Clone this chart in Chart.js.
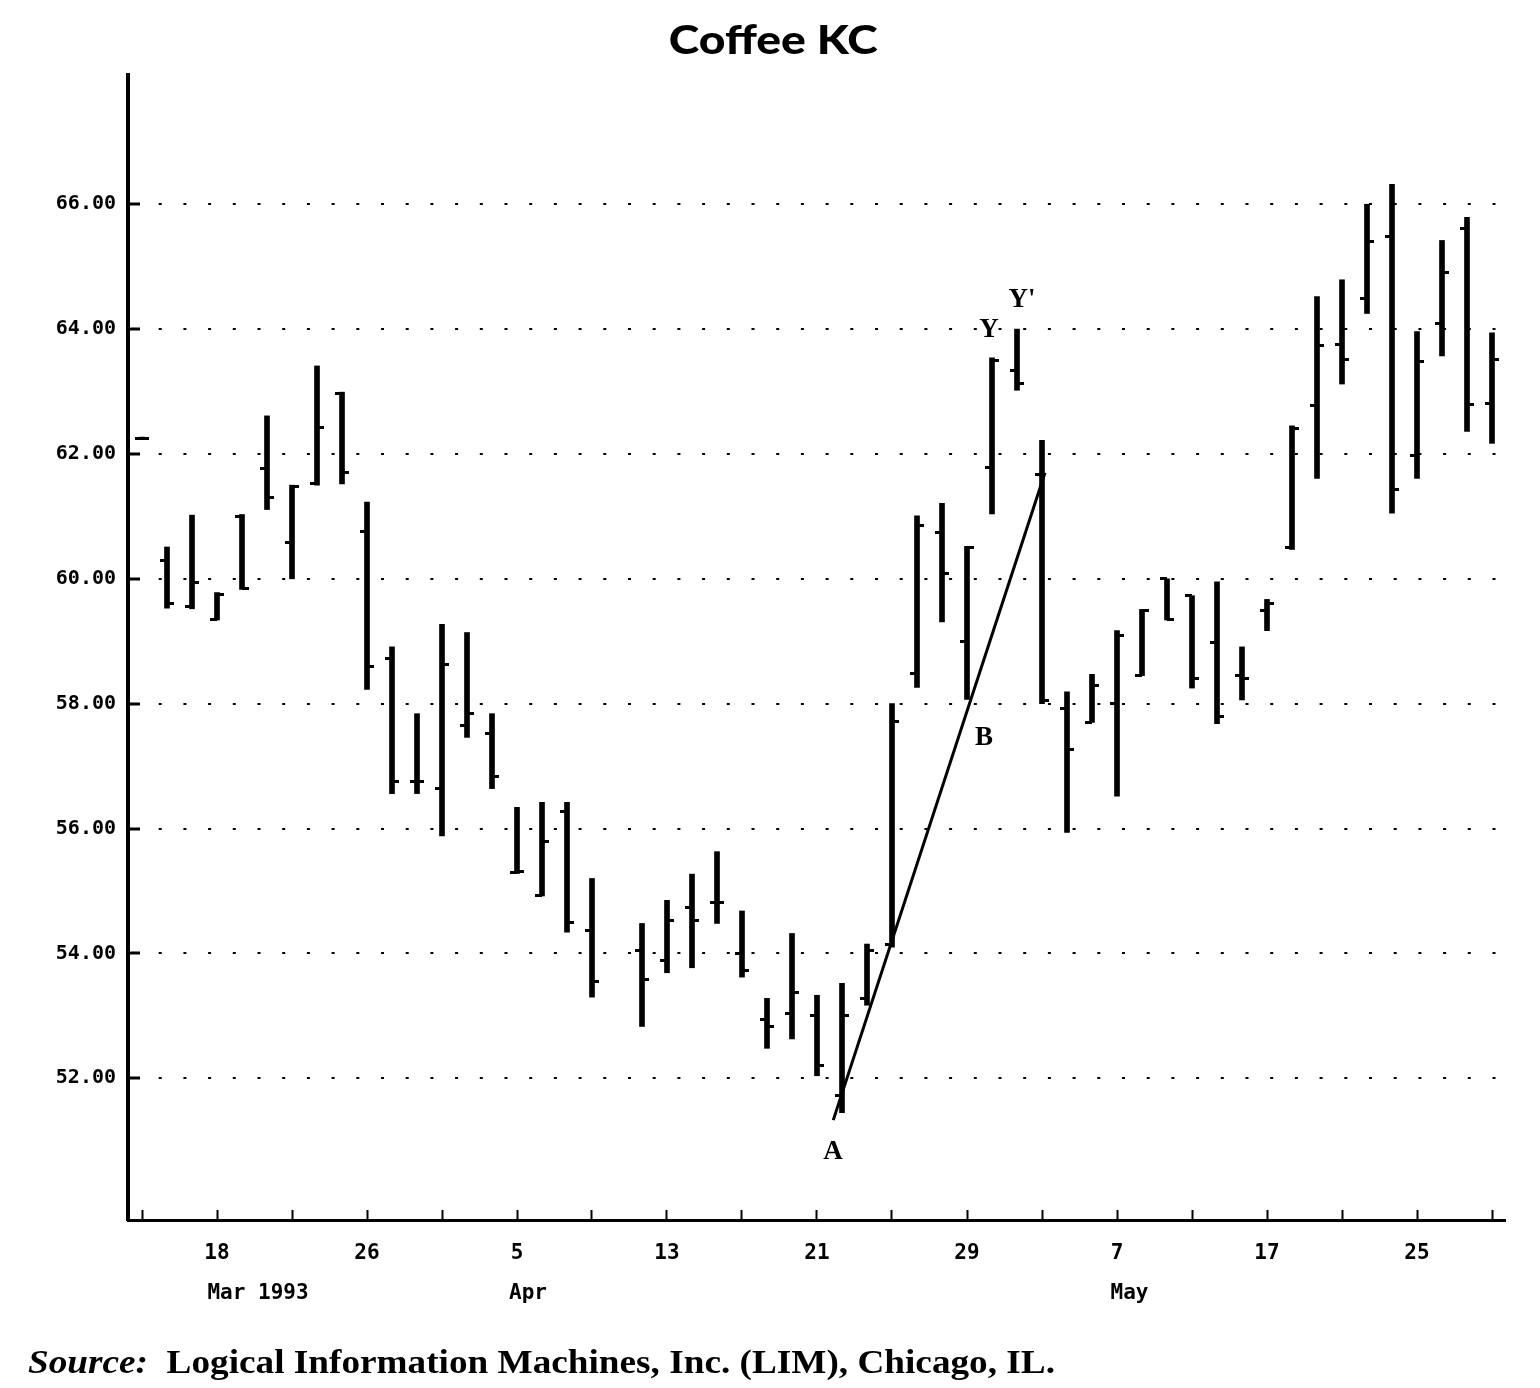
<!DOCTYPE html>
<html><head><meta charset="utf-8">
<script src="https://cdn.jsdelivr.net/npm/chart.js@4.4.1/dist/chart.umd.min.js"></script>
<style>
html,body{margin:0;padding:0;background:#fff;width:1540px;height:1388px;overflow:hidden;position:relative}
#c{position:absolute;left:0;top:0}
#title{position:absolute;left:0;width:1546px;top:14px;text-align:center;font-family:Lato;font-weight:900;font-size:40px;color:#000;line-height:50px}
#title span{display:inline-block;transform-origin:50% 50%}
#src{position:absolute;left:28px;top:1343px;font-family:"Liberation Serif";font-weight:bold;font-size:33px;white-space:nowrap;transform-origin:0 0;color:#000;line-height:38px}
</style></head><body>
<canvas id="c" width="1540" height="1388"></canvas>
<div id="title"><span id="tt">Coffee KC</span></div>
<div id="src"><i>Source:</i>&nbsp; Logical Information Machines, Inc. (LIM), Chicago, IL.</div>
<script>
// ---- data (one entry per trading day) ----
const dates = [
 '1993-03-15','1993-03-16','1993-03-17','1993-03-18','1993-03-19',
 '1993-03-22','1993-03-23','1993-03-24','1993-03-25','1993-03-26',
 '1993-03-29','1993-03-30','1993-03-31','1993-04-01','1993-04-02',
 '1993-04-05','1993-04-06','1993-04-07','1993-04-08','1993-04-09',
 '1993-04-12','1993-04-13','1993-04-14','1993-04-15','1993-04-16',
 '1993-04-19','1993-04-20','1993-04-21','1993-04-22','1993-04-23',
 '1993-04-26','1993-04-27','1993-04-28','1993-04-29','1993-04-30',
 '1993-05-03','1993-05-04','1993-05-05','1993-05-06','1993-05-07',
 '1993-05-10','1993-05-11','1993-05-12','1993-05-13','1993-05-14',
 '1993-05-17','1993-05-18','1993-05-19','1993-05-20','1993-05-21',
 '1993-05-24','1993-05-25','1993-05-26','1993-05-27','1993-05-28'];
const highs = [62.27,60.51,61.02,59.78,61.03, 62.61,61.50,63.41,62.99,61.23,
 58.91,57.84,59.27,59.14,57.84, 56.34,56.42,56.42,55.20,null,
 54.48,54.85,55.27,55.63,54.68, 53.28,54.32,53.33,53.52,54.15,
 58.00,61.01,61.21,60.52,63.54, 64.00,62.22,58.19,58.47,59.17,
 59.51,60.00,59.73,59.95,58.91, 59.67,62.45,64.52,64.79,66.00,
 66.32,63.96,65.42,65.79,63.94];
const lows = [62.23,59.53,59.52,59.34,59.83, 61.11,60.00,61.50,61.52,58.23,
 56.56,56.56,55.88,57.46,56.64, 55.28,54.92,54.34,53.30,null,
 52.83,53.69,53.77,54.48,53.62, 52.48,52.63,52.04,51.45,53.17,
 54.10,58.26,59.31,58.07,61.04, 63.02,58.00,55.94,57.70,56.52,
 58.45,59.34,58.25,57.68,58.06, 59.17,60.47,61.61,63.12,64.25,
 61.05,61.61,63.57,62.36,62.17];
const opens = [62.25,60.30,59.55,59.35,61.00, 61.77,60.58,61.52,62.97,60.76,
 58.73,56.75,56.64,57.65,57.53, 55.30,54.93,56.28,54.37,null,
 54.05,53.89,54.73,54.81,54.00, 52.94,53.03,53.01,51.73,53.28,
 54.15,58.49,60.74,58.99,61.78, 63.34,61.67,57.93,57.70,58.00,
 58.45,60.00,59.73,58.98,58.45, 59.50,60.50,62.78,63.76,64.49,
 65.48,61.98,64.09,65.61,62.81];
const closes = [62.25,59.60,59.94,59.75,59.85, 61.30,61.48,62.42,61.71,58.60,
 56.75,56.75,58.63,57.85,56.83, 55.32,55.80,54.49,53.55,null,
 53.58,54.53,54.52,54.81,53.73, 52.83,53.38,52.20,53.01,54.05,
 57.71,60.86,60.09,60.50,63.50, 63.13,58.05,57.27,58.29,59.10,
 59.50,59.35,58.40,57.79,58.40, 59.60,62.40,63.73,63.52,65.41,
 61.43,63.48,64.91,62.79,63.51];
// tick labels
const yTickValues = [52,54,56,58,60,62,64,66];
const xTickEvery = 3;               // tick mark every 3 trading days
const dayLabelIdx = [3,9,15,21,27,33,39,45,51];
const monthLabels = ['Mar 1993','Apr','May'];
const monthLabelAt = [4.64,15.44,39.5];
// trend line A -> top of rally, and annotations
const trendX = [27.65,36.12];
const trendY = [51.33,61.70];
const noteText = ['A','B','Y',"Y'"];
const noteX = [27.64,33.68,33.88,35.2];
const noteY = [50.82,57.45,63.98,64.46];

// ---- build datasets ----
const barData=[], openPts=[], closePts=[];
for(let i=0;i<dates.length;i++){
  if(highs[i]==null) continue;
  barData.push({x:i,y:[lows[i],highs[i]]});
  openPts.push({x:i,y:opens[i]});
  closePts.push({x:i,y:closes[i]});
}
function tickImg(left){
  const c=document.createElement('canvas'); c.width=14; c.height=3;
  const g=c.getContext('2d'); g.fillStyle='#000'; g.fillRect(left?0:7,0,7,3); return c;
}
const trendData = trendX.map((v,i)=>({x:v,y:trendY[i]}));
const xTicks=[]; for(let i=0;i<dates.length;i+=xTickEvery) xTicks.push(i);

const notes = {
  id:'notes',
  afterDatasetsDraw(chart){
    const {ctx, scales:{x,y}} = chart;
    ctx.save();
    ctx.fillStyle='#000';
    ctx.font='bold 27px "Liberation Serif"';
    ctx.textAlign='center'; ctx.textBaseline='middle';
    noteText.forEach((t,i)=>ctx.fillText(t, x.getPixelForValue(noteX[i]), y.getPixelForValue(noteY[i])));
    ctx.restore();
  }
};

const monoFont = {family:'DejaVu Sans Mono', size:20, weight:'bold'};
const xFont = {family:'DejaVu Sans Mono', size:21, weight:'bold'};
new Chart(document.getElementById('c'), {
  type:'bar',
  data:{datasets:[
    {type:'bar', data:barData, backgroundColor:'#000', borderWidth:0, barThickness:5, xAxisID:'x', yAxisID:'y'},
    {type:'scatter', data:openPts, pointStyle:tickImg(true), pointRadius:7, xAxisID:'x', yAxisID:'y'},
    {type:'scatter', data:closePts, pointStyle:tickImg(false), pointRadius:7, xAxisID:'x', yAxisID:'y'},
    {type:'line', data:trendData, borderColor:'#000', borderWidth:3, pointRadius:0, tension:0, fill:false, xAxisID:'x', yAxisID:'y'}
  ]},
  options:{
    responsive:false, animation:false, devicePixelRatio:1,
    layout:{padding:{left:0, top:75, right:35, bottom:72}},
    plugins:{legend:{display:false}, tooltip:{enabled:false}, title:{display:false}},
    scales:{
      x:{type:'linear', position:'bottom', weight:0, min:-0.56, max:54.52, offset:false,
        afterBuildTicks:s=>{ s.ticks = xTicks.map(v=>({value:v})); },
        afterFit:s=>{ s.height = 56; },
        grid:{display:true, offset:false, drawOnChartArea:false, drawTicks:true, tickLength:-10, tickWidth:2, tickColor:'#000'},
        border:{display:true, color:'#000', width:3},
        ticks:{autoSkip:false, maxRotation:0, minRotation:0, padding:31, color:'#000', font:xFont,
          callback:(v)=> dayLabelIdx.includes(v) ? String(parseInt(dates[v].slice(8),10)) : ''}
      },
      xm:{type:'linear', position:'bottom', weight:1, min:-0.56, max:54.52, offset:false,
        afterBuildTicks:s=>{ s.ticks = monthLabelAt.map(v=>({value:v})); },
        afterFit:s=>{ s.height = 40; },
        grid:{display:false}, border:{display:false},
        ticks:{autoSkip:false, maxRotation:0, minRotation:0, padding:-3, color:'#000', font:xFont,
          callback:(v,i)=> monthLabels[i]}
      },
      y:{type:'linear', position:'left', min:49.73, max:68.07, beginAtZero:false,
        afterBuildTicks:s=>{ s.ticks = yTickValues.map(v=>({value:v})); },
        afterFit:s=>{ s.width = 128; },
        grid:{display:true, drawOnChartArea:true, color:'#000', lineWidth:2, drawTicks:true, tickLength:-12, tickWidth:3, tickColor:'#000'},
        border:{display:true, color:'#000', width:4, dash:[3,21.7], dashOffset:20.7},
        ticks:{padding:24, color:'#000', font:monoFont, callback:v=>v.toFixed(2)}
      }
    }
  },
  plugins:[notes]
});

// fit title / source widths to the reference layout
function fitWidth(el, target){
  const w = el.getBoundingClientRect().width;
  if(w>0) el.style.transform = 'scaleX(' + (target/w) + ')';
}
fitWidth(document.getElementById('tt'), 209);
fitWidth(document.getElementById('src'), 1027);
</script>
</body></html>
